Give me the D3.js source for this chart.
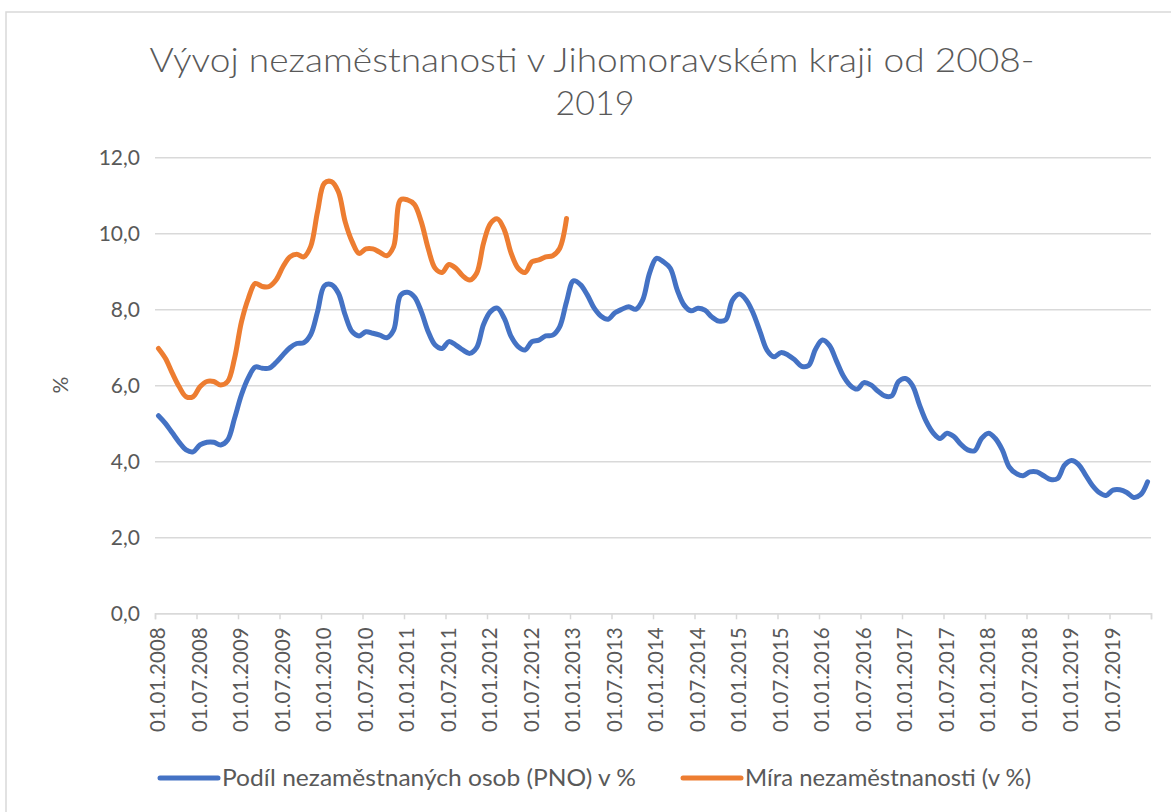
<!DOCTYPE html>
<html>
<head>
<meta charset="utf-8">
<script src="https://cdn.jsdelivr.net/npm/d3@7"></script>
<style>
  body { margin: 0; background: #fff; }
  text { font-family: Lato, "Open Sans", sans-serif; fill: #595959; }
</style>
</head>
<body>
<svg id="chart" width="1171" height="812"></svg>
<script>
// monthly values 01/2008 - 12/2019
const pno = [
  5.2, 5.0, 4.75, 4.5, 4.3, 4.25, 4.43, 4.5, 4.5, 4.43, 4.56, 5.13,
  5.75, 6.2, 6.48, 6.45, 6.45, 6.6, 6.8, 6.99, 7.1, 7.12, 7.33, 7.94,
  8.62, 8.65, 8.43, 7.85, 7.41, 7.3, 7.41, 7.37, 7.32, 7.25, 7.45, 8.37,
  8.45, 8.33, 7.94, 7.41, 7.06, 6.97, 7.15, 7.06, 6.93, 6.84, 6.99, 7.6,
  7.94, 8.03, 7.76, 7.28, 7.02, 6.93, 7.15, 7.19, 7.3, 7.32, 7.54, 8.2,
  8.75, 8.65, 8.38, 8.03, 7.82, 7.74, 7.91, 8.0, 8.07, 8.0, 8.24, 8.95,
  9.34, 9.25, 9.08, 8.51, 8.11, 7.96, 8.03, 7.98, 7.8, 7.69, 7.72, 8.24,
  8.4, 8.24, 7.89, 7.4, 6.92, 6.75, 6.86, 6.8, 6.67, 6.5, 6.52, 6.95,
  7.19, 7.05, 6.65, 6.25, 6.0, 5.9, 6.07, 6.01, 5.85, 5.72, 5.72, 6.1,
  6.18, 6.0, 5.5, 5.05, 4.75, 4.6, 4.74, 4.65, 4.45, 4.3, 4.28, 4.6,
  4.74, 4.6, 4.3, 3.85, 3.68, 3.62, 3.72, 3.72, 3.62, 3.52, 3.55, 3.9,
  4.02, 3.92, 3.65, 3.37, 3.18, 3.1, 3.24, 3.25, 3.18, 3.05, 3.12, 3.46
];

// monthly values 01/2008 - 12/2012
const mira = [
  6.97, 6.71, 6.32, 5.96, 5.7, 5.7, 5.96, 6.1, 6.1, 6.01, 6.1, 6.71,
  7.67, 8.29, 8.68, 8.6, 8.6, 8.77, 9.12, 9.38, 9.45, 9.38, 9.65, 10.57,
  11.32, 11.36, 11.1, 10.3, 9.78, 9.47, 9.59, 9.59, 9.5, 9.41, 9.65, 10.88,
  10.88, 10.76, 10.3, 9.6, 9.08, 8.97, 9.18, 9.08, 8.88, 8.77, 8.95, 9.74,
  10.26, 10.38, 10.09, 9.47, 9.08, 8.97, 9.25, 9.3, 9.38, 9.41, 9.6, 10.39
];

const tickLabels = [
  "01.01.2008", "01.07.2008", "01.01.2009", "01.07.2009", "01.01.2010", "01.07.2010",
  "01.01.2011", "01.07.2011", "01.01.2012", "01.07.2012", "01.01.2013", "01.07.2013",
  "01.01.2014", "01.07.2014", "01.01.2015", "01.07.2015", "01.01.2016", "01.07.2016",
  "01.01.2017", "01.07.2017", "01.01.2018", "01.07.2018", "01.01.2019", "01.07.2019"
];

const yTicks = [0, 2, 4, 6, 8, 10, 12];

const seriesNames = ["Podíl nezaměstnaných osob (PNO) v %", "Míra nezaměstnanosti (v %)"];
const colors = ["#4472C4", "#ED7D31"];

const svg = d3.select("#chart");
const plotLeft = 155, plotRight = 1151, plotTop = 157.3, plotBottom = 613.3;

svg.append("rect")
    .attr("x", 6).attr("y", 12)
    .attr("width", 1180).attr("height", 820)
    .attr("fill", "#fff")
    .attr("stroke", "#d9d9d9")
    .attr("stroke-width", 1.5);

const x = d3.scaleLinear().domain([0, pno.length]).range([plotLeft, plotRight]);
const y = d3.scaleLinear().domain([0, 12]).range([plotBottom, plotTop]);

// gridlines + y labels
const yAxis = svg.append("g")
    .attr("transform", `translate(${plotLeft}, 0)`)
    .call(d3.axisLeft(y)
        .tickValues(yTicks)
        .tickSize(-(plotRight - plotLeft))
        .tickPadding(15)
        .tickFormat(d => d3.format(".1f")(d).replace(".", ",")));
yAxis.select(".domain").remove();
yAxis.selectAll("line").attr("stroke", "#d9d9d9").attr("stroke-width", 1.5);
yAxis.selectAll("text").style("font-size", "21px").attr("fill", "#595959");

// x axis
const xAxis = svg.append("g")
    .attr("transform", `translate(0, ${plotBottom})`)
    .call(d3.axisBottom(x)
        .tickValues(d3.range(0, pno.length + 1, 6))
        .tickSize(6)
        .tickFormat(""));
xAxis.selectAll("line, path").attr("stroke", "#d9d9d9").attr("stroke-width", 1.5);

svg.append("g").selectAll("text")
    .data(tickLabels)
    .enter()
    .append("text")
    .attr("transform", (d, i) => `translate(${x(i * 6 + 0.5) + 7}, ${plotBottom + 14}) rotate(-90)`)
    .attr("text-anchor", "end")
    .style("font-size", "20.5px")
    .text(d => d);

// lines
const line = d3.line()
    .x((d, i) => x(i + 0.5))
    .y(d => y(d))
    .curve(d3.curveCatmullRom.alpha(0.5));

[pno, mira].forEach((values, k) => {
    svg.append("path")
        .datum(values)
        .attr("fill", "none")
        .attr("stroke", colors[k])
        .attr("stroke-width", 5)
        .attr("stroke-linejoin", "round")
        .attr("stroke-linecap", "round")
        .attr("d", line);
});

// y title
svg.append("text")
    .attr("transform", "translate(68, 385) rotate(-90)")
    .attr("text-anchor", "middle")
    .style("font-size", "21px")
    .text("%");

// title
svg.append("text")
    .attr("x", 592).attr("y", 72)
    .attr("text-anchor", "middle")
    .attr("textLength", 885)
    .attr("lengthAdjust", "spacingAndGlyphs")
    .style("font-size", "34px")
    .style("font-weight", 300)
    .text("Vývoj nezaměstnanosti v Jihomoravském kraji od 2008-");
svg.append("text")
    .attr("x", 595).attr("y", 115)
    .attr("text-anchor", "middle")
    .style("font-size", "34px")
    .style("font-weight", 300)
    .text("2019");

// legend
const legendX = [160, 683];
const legendTextWidth = [414, 286];
seriesNames.forEach((name, k) => {
    svg.append("line")
        .attr("x1", legendX[k]).attr("x2", legendX[k] + 58)
        .attr("y1", 778).attr("y2", 778)
        .attr("stroke", colors[k])
        .attr("stroke-width", 5)
        .attr("stroke-linecap", "round");
    svg.append("text")
        .attr("x", legendX[k] + 62).attr("y", 786)
        .attr("textLength", legendTextWidth[k])
        .attr("lengthAdjust", "spacingAndGlyphs")
        .style("font-size", "23px")
        .text(name);
});
</script>
</body>
</html>
